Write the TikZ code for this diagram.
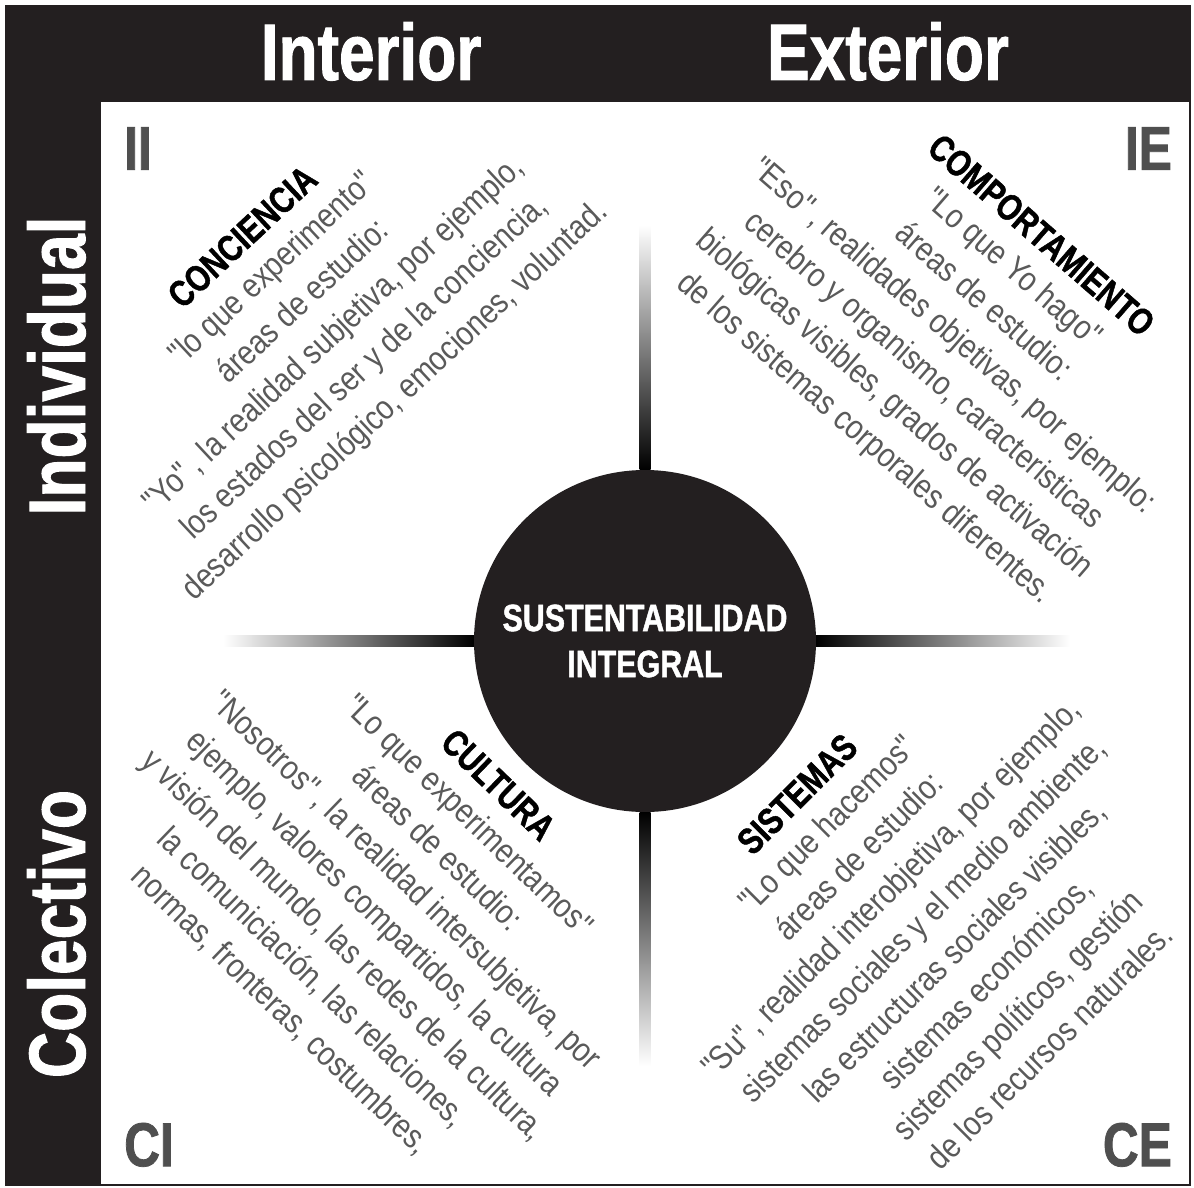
\documentclass[tikz,border=0pt]{standalone}
\usepackage{fontspec}
\setmainfont{Liberation Sans}
\newfontfamily\headfont[FakeStretch=0.8,FakeBold=1.2]{Liberation Sans}
\newfontfamily\bodyfont[FakeStretch=0.85]{Liberation Sans}
\usepackage{tikz}
\usetikzlibrary{
  calc,
  positioning
}
\definecolor{framebg}{HTML}{231F20}
\definecolor{labelgray}{HTML}{4F4F4F}
\definecolor{textgray}{HTML}{5A5A5A}
\newcommand{\qtitle}[1]{{\headfont\bfseries\fontsize{37}{40}\selectfont\color{black}#1}}

\begin{document}
\begin{tikzpicture}[x=1pt,y=-1pt,
  axis/.style={font=\headfont\bfseries\fontsize{80}{80}\selectfont, text=white, inner sep=0},
  corner/.style={font=\headfont\bfseries\fontsize{62}{62}\selectfont, text=labelgray, inner sep=0},
  quad/.style={font=\bodyfont\fontsize{34}{45}\selectfont, text=textgray, align=center, inner sep=0},
  core/.style={circle, fill=framebg, minimum size=342pt, inner sep=0, text=white, align=center,
    font=\headfont\bfseries\fontsize{38}{46}\selectfont}]
\useasboundingbox (0,0) rectangle (1194,1188);
% frame
\fill[framebg] (5,5) rectangle (1191,1186);
\fill[white] (101,102) rectangle (1189,1184);
\node[axis, anchor=base] (interior) at (371,80) {Interior};
\node[axis, anchor=base] (exterior) at (888,80) {Exterior};
\node[axis, anchor=base, rotate=90] (individual) at (85,366) {Individual};
\node[axis, anchor=base, rotate=90] (colectivo) at (85,934) {Colectivo};
% corners
\node[corner, anchor=south west] (ii) at (124,170) {II};
\node[corner, anchor=south east] (ie) at (1172,170) {IE};
\node[corner, anchor=south west] (ci) at (124,1167) {CI};
\node[corner, anchor=south east] (ce) at (1172,1167) {CE};
% centre and bars
\node[core] (core) at (645,641) {SUSTENTABILIDAD\\INTEGRAL};
\coordinate (topend) at (645,225);
\coordinate (botend) at (645,1066);
\coordinate (leftend) at (223,641);
\coordinate (rightend) at (1070,641);
\shade[top color=white, bottom color=black] ($(topend)+(-5.5,0)$) rectangle ($(core.north)+(5.5,0)$);
\shade[top color=black, bottom color=white] ($(core.south)+(-5.5,0)$) rectangle ($(botend)+(5.5,0)$);
\shade[left color=white, right color=black] ($(leftend)+(0,-5.5)$) rectangle ($(core.west)+(0,5.5)$);
\shade[left color=black, right color=white] ($(core.east)+(0,-5.5)$) rectangle ($(rightend)+(0,5.5)$);
% quadrants
\node[quad, rotate=43] (conciencia) at (320,320) {\qtitle{CONCIENCIA}\\[-4pt]
  "lo que experimento"\\
  áreas de estudio:\\
  "Yo"\,, la realidad subjetiva, por ejemplo,\\
  los estados del ser y de la conciencia,\\
  desarrollo psicológico, emociones, voluntad.};
\node[quad, rotate=-41] (comportamiento) at (952,338) {\qtitle{COMPORTAMIENTO}\\[-4pt]
  "Lo que Yo hago"\\
  áreas de estudio:\\
  "Eso"\,, realidades objetivas, por ejemplo:\\
  cerebro y organismo, caracteristicas\\
  biológicas visibles, grados de activación\\
  de los sistemas corporales diferentes.};
\node[quad, rotate=-44] (cultura) at (389,898) {\qtitle{CULTURA}\\[-4pt]
  "Lo que experimentamos"\\
  áreas de estudio:\\
  "Nosotros"\,, la realidad intersubjetiva, por\\
  ejemplo, valores compartidos, la cultura\\
  y visión del mundo, las redes de la cultura,\\
  la comuniciación, las relaciones,\\
  normas, fronteras, costumbres,};
\node[quad, rotate=45] (sistemas) at (923,920) {\qtitle{SISTEMAS}\\[-4pt]
  "Lo que hacemos"\\
  áreas de estudio:\\
  "Su"\,, realidad interobjetiva, por ejemplo,\\
  sistemas sociales y el medio ambiente,\\
  las estructuras sociales visibles,\\
  sistemas económicos,\\
  sistemas políticos, gestión\\
  de los recursos naturales.};
\end{tikzpicture}
\end{document}
